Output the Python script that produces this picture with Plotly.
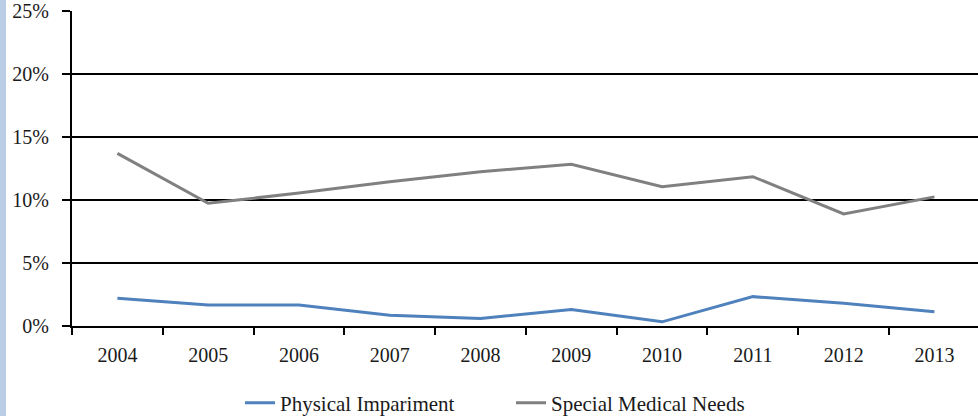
import plotly.graph_objects as go

years = ["2004", "2005", "2006", "2007", "2008", "2009", "2010", "2011", "2012", "2013"]
physical_impairment = [2.2, 1.67, 1.67, 0.85, 0.6, 1.3, 0.33, 2.33, 1.8, 1.13]
special_medical_needs = [13.7, 9.74, 10.55, 11.45, 12.25, 12.83, 11.05, 11.85, 8.9, 10.25]
y_ticks = [0, 5, 10, 15, 20, 25]
y_tick_labels = ["0%", "5%", "10%", "15%", "20%", "25%"]

FONT = "Liberation Serif"

fig = go.Figure()
fig.add_trace(go.Scatter(x=years, y=physical_impairment, mode="lines",
                         name="Physical Impariment",
                         line=dict(color="#4f81bd", width=3)))
fig.add_trace(go.Scatter(x=years, y=special_medical_needs, mode="lines",
                         name="Special Medical Needs",
                         line=dict(color="#808080", width=3)))

fig.update_layout(
    width=978, height=416,
    margin=dict(l=72, r=0, t=11, b=90, autoexpand=False),
    paper_bgcolor="white", plot_bgcolor="white",
    font=dict(family=FONT, size=20, color="#1a1a1a"),
    showlegend=True,
    legend=dict(orientation="h", x=(240 - 72) / 906, xanchor="left",
                entrywidth=226, entrywidthmode="pixels",
                yref="container", y=1 - 403/416, yanchor="middle",
                font=dict(family=FONT, size=21, color="#1a1a1a"),
                bgcolor="rgba(0,0,0,0)"),
    xaxis=dict(type="category", range=[-0.5, 9.48], tickson="boundaries",
               ticks="outside", ticklen=7, tickwidth=1.5, tickcolor="black",
               ticklabelstandoff=10,
               showline=True, linecolor="black", linewidth=2,
               showgrid=False, zeroline=False, fixedrange=True),
    yaxis=dict(range=[0, 25], tickvals=y_ticks, ticktext=y_tick_labels,
               ticks="outside", ticklen=8, tickwidth=1.5, tickcolor="black",
               ticklabelstandoff=9,
               showline=True, linecolor="black", linewidth=2,
               showgrid=True, gridcolor="black", gridwidth=1.5,
               zeroline=False, fixedrange=True),
    shapes=[dict(type="rect", xref="paper", yref="paper",
                 x0=-72/906, x1=-66/906, y0=-90/315, y1=1+11/315,
                 fillcolor="#b9cde5", line=dict(width=0), layer="below")],
)

fig.write_html("out.html", config={"displayModeBar": False},
               post_script="document.body.style.margin='0';")
